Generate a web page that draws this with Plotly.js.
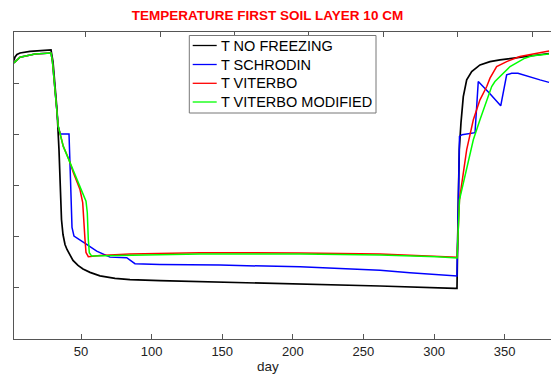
<!DOCTYPE html>
<html>
<head>
<meta charset="utf-8">
<script src="https://cdn.plot.ly/plotly-3.0.1.min.js"></script>
<style>html,body{margin:0;padding:0;background:#fff;}#chart{width:551px;height:376px;}</style>
</head>
<body>
<div id="chart"></div>
<script>
// Series names and colours
const seriesNames = ["T NO FREEZING", "T SCHRODIN", "T VITERBO", "T VITERBO MODIFIED"];
const seriesColors = ["#000000", "#0000ff", "#ff0000", "#00ff00"];

// T NO FREEZING
const dayNoFreezing = [2.55, 3.26, 4.67, 6.8, 13.88, 20.96, 28.75, 30.17, 31.58, 33.0, 34.41, 35.12, 36.18, 37.25, 38.66, 40.08, 42.2, 44.33, 47.87, 51.41, 56.36, 63.44, 74.07, 84.69, 105.93, 148.4, 205.1, 261.7, 314.8, 316.23, 316.94, 317.86, 319.06, 320.69, 323.1, 326.64, 332.52, 339.6, 346.68, 360.84, 375.0, 381.36];
const tNoFreezing   = [7.22, 7.56, 7.81, 7.95, 8.10, 8.17, 8.25, 7.08, 4.83, 2.40, -1.50, -5.11, -8.32, -9.79, -10.76, -11.25, -11.83, -12.32, -12.81, -13.15, -13.49, -13.83, -14.07, -14.20, -14.30, -14.43, -14.61, -14.82, -15.05, -15.05, -8.32, -1.50, 1.13, 3.69, 5.32, 6.13, 6.78, 7.11, 7.27, 7.53, 7.76, 7.90];

// T SCHRODIN
const daySchrodin = [2.55, 6.8, 17.4, 28.75, 29.8, 30.9, 32.3, 33.9, 35.3, 41.5, 42.56, 43.62, 45.03, 49.28, 54.0, 61.1, 70.5, 82.35, 84.7, 88.2, 105.9, 148.4, 205.1, 261.7, 282.9, 314.8, 316.2, 318.0, 319.8, 329.0, 331.3, 339.6, 347.2, 351.4, 354.9, 359.4, 363.0, 375.0, 381.4];
const tSchrodin   = [6.98, 7.53, 7.86, 7.95, 7.08, 5.32, 2.88, 0.77, 0.03, 0.03, -4.42, -9.10, -9.95, -10.37, -10.76, -11.41, -12.0, -12.06, -12.29, -12.64, -12.71, -12.78, -12.95, -13.27, -13.52, -13.85, -13.85, -0.2, -0.04, 0.16, 5.16, 3.96, 2.79, 5.81, 5.97, 5.97, 5.81, 5.32, 5.08];

// T VITERBO
const dayViterbo = [2.55, 6.8, 17.4, 28.75, 29.8, 30.9, 32.3, 33.9, 37.46, 41.5, 44.54, 49.28, 51.2, 51.6, 52.82, 53.53, 55.16, 63.4, 84.7, 134.3, 205.1, 261.7, 302.1, 315.5, 316.3, 318.0, 323.1, 327.8, 332.5, 337.3, 339.6, 344.3, 351.4, 360.8, 375.0, 381.4];
const tViterbo   = [6.98, 7.53, 7.86, 7.95, 7.08, 5.32, 2.88, 0.77, -1.18, -2.48, -3.74, -5.40, -6.67, -7.35, -10.27, -11.54, -11.96, -11.83, -11.69, -11.57, -11.59, -11.69, -11.93, -12.01, -12.01, -6.37, -1.50, 1.42, 3.37, 4.67, 5.49, 6.62, 7.11, 7.6, 7.95, 8.15];

// T VITERBO MODIFIED
const dayViterboMod = [2.55, 6.8, 17.4, 28.75, 29.8, 30.9, 32.3, 33.9, 37.46, 41.5, 44.54, 49.28, 51.6, 53.53, 54.45, 55.16, 55.87, 57.57, 63.4, 84.7, 134.3, 205.1, 261.7, 302.1, 315.5, 316.3, 318.0, 327.8, 332.5, 337.3, 340.8, 343.1, 349.0, 353.8, 364.3, 370.0, 381.4];
const tViterboMod   = [6.98, 7.53, 7.86, 7.95, 7.08, 5.32, 2.88, 0.77, -1.18, -2.48, -3.62, -5.08, -5.89, -6.54, -7.64, -10.27, -11.57, -11.90, -11.88, -11.80, -11.69, -11.69, -11.78, -11.96, -12.08, -12.08, -6.4, -0.53, 1.42, 3.37, 4.67, 5.16, 5.97, 6.62, 7.44, 7.69, 7.86];

// Axis ticks
const xTickVals = [50, 100, 150, 200, 250, 300, 350];
const xTopTickVals = [50, 100, 150, 200, 250, 300, 350];
const yTickVals = [-15, -10, -5, 0, 5];

const xs = [dayNoFreezing, daySchrodin, dayViterbo, dayViterboMod];
const ys = [tNoFreezing, tSchrodin, tViterbo, tViterboMod];

const FONT = 'Arial, "Liberation Sans", sans-serif';

// plot area in pixels
const PL = 14, PT = 32, PW = 537, PH = 307;
const px = v => (v - PL) / PW;
const py = v => 1 - (v - PT) / PH;

const traces = seriesNames.map((n, i) => ({
  type: 'scatter',
  mode: 'lines',
  name: n,
  x: xs[i],
  y: ys[i],
  showlegend: false,
  line: {color: seriesColors[i], width: i === 0 ? 1.7 : 1.5}
}));
// empty trace so the top tick axis is drawn
traces.push({type: 'scatter', mode: 'lines', x: [], y: [], xaxis: 'x2', yaxis: 'y', showlegend: false, hoverinfo: 'skip'});

// Custom MATLAB-style legend
const legBox = {x0: 189.3, x1: 376, y0: 35.5, y1: 113};
const legRowY = [45.5, 64.5, 83.3, 102];
const shapes = [{
  type: 'rect', xref: 'paper', yref: 'paper',
  x0: px(legBox.x0), x1: px(legBox.x1), y0: py(legBox.y1), y1: py(legBox.y0),
  line: {color: '#777', width: 1}, fillcolor: '#ffffff', layer: 'above'
}];
const annotations = [];
seriesNames.forEach((n, i) => {
  shapes.push({
    type: 'line', xref: 'paper', yref: 'paper',
    x0: px(192.7), x1: px(216.7), y0: py(legRowY[i]), y1: py(legRowY[i]),
    line: {color: seriesColors[i], width: 1.3}, layer: 'above'
  });
  annotations.push({
    text: n, xref: 'paper', yref: 'paper',
    x: px(218.5), xanchor: 'left', y: py(legRowY[i]), yanchor: 'middle',
    showarrow: false, font: {family: FONT, size: 14.5, color: '#000'}
  });
});
annotations.push({
  text: 'day',
  xref: 'paper', x: px(267.5), xanchor: 'center',
  yref: 'paper', y: py(366.7), yanchor: 'middle',
  showarrow: false,
  font: {family: FONT, size: 13.5, color: '#222'}
});

const layout = {
  width: 551,
  height: 376,
  margin: {l: PL, r: 0, t: PT, b: 376 - PT - PH},
  paper_bgcolor: '#ffffff',
  plot_bgcolor: '#ffffff',
  font: {family: FONT, size: 13, color: '#222'},
  title: {
    text: '<b>TEMPERATURE FIRST SOIL LAYER 10 CM</b>',
    font: {family: FONT, size: 13.5, color: '#ff0000'},
    xref: 'container', x: 267.5 / 551, xanchor: 'center',
    yref: 'container', y: 1 - 15.5 / 376, yanchor: 'middle'
  },
  showlegend: false,
  xaxis: {
    range: [2.55, 382.8],
    tickmode: 'array',
    tickvals: xTickVals,
    ticktext: xTickVals.map(String),
    ticks: 'inside',
    ticklen: 5,
    tickcolor: '#555',
    showline: true,
    linecolor: '#555',
    linewidth: 1,
    mirror: true,
    showgrid: false,
    zeroline: false,
    tickfont: {family: FONT, size: 13, color: '#222'}
  },
  xaxis2: {
    overlaying: 'x',
    side: 'top',
    range: [1.8, 362.7],
    tickmode: 'array',
    tickvals: xTopTickVals,
    showticklabels: false,
    ticks: 'inside',
    ticklen: 5,
    tickcolor: '#555',
    showline: false,
    showgrid: false,
    zeroline: false
  },
  yaxis: {
    range: [-20, 10],
    tickmode: 'array',
    tickvals: yTickVals,
    showticklabels: false,
    ticks: 'inside',
    ticklen: 5,
    tickcolor: '#555',
    showline: true,
    linecolor: '#555',
    linewidth: 1,
    mirror: false,
    showgrid: false,
    zeroline: false
  },
  shapes: shapes,
  annotations: annotations
};

Plotly.newPlot('chart', traces, layout, {staticPlot: true, displayModeBar: false});
</script>
</body>
</html>
